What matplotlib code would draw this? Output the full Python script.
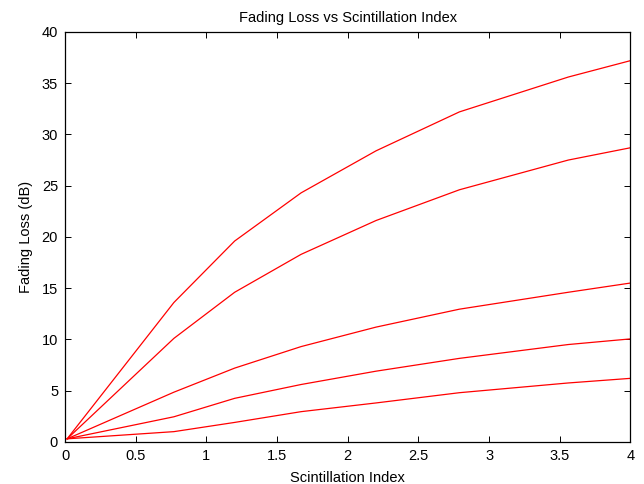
import matplotlib
matplotlib.use("Agg")
import matplotlib.pyplot as plt

plt.rcParams["font.family"] = ["Liberation Sans", "DejaVu Sans"]

# scintillation index breakpoints, shared by every curve
SI = [0.015, 0.77, 1.2, 1.67, 2.2, 2.79, 3.56, 4.0]

# fading loss (dB), one curve per outage probability (top to bottom)
LOSS_1 = [0.3, 13.6, 19.6, 24.3, 28.4, 32.2, 35.6, 37.2]
LOSS_2 = [0.3, 10.1, 14.6, 18.3, 21.6, 24.6, 27.5, 28.7]
LOSS_3 = [0.3, 4.85, 7.2, 9.3, 11.2, 12.95, 14.6, 15.5]
LOSS_4 = [0.3, 2.45, 4.25, 5.6, 6.9, 8.15, 9.5, 10.05]
LOSS_5 = [0.3, 1.0, 1.9, 2.95, 3.8, 4.8, 5.75, 6.2]

X_TICKS = [0, 0.5, 1, 1.5, 2, 2.5, 3, 3.5, 4]
Y_TICKS = [0, 5, 10, 15, 20, 25, 30, 35, 40]

fig = plt.figure(figsize=(6.44, 4.84), dpi=100)
ax = fig.add_axes([0.101, 0.087, 0.878, 0.847])

for loss in (LOSS_1, LOSS_2, LOSS_3, LOSS_4, LOSS_5):
    ax.plot(SI, loss, color="#ff0000", lw=0.9)

ax.set_xlim(0, 4)
ax.set_ylim(0, 40)
ax.set_xticks(X_TICKS)
ax.set_xticklabels(["0", "0.5", "1", "1.5", "2", "2.5", "3", "3.5", "4"])
ax.set_yticks(Y_TICKS)
ax.tick_params(direction="in", length=4, width=0.7, labelsize=10.5,
               top=True, right=True, pad=5)
for s in ax.spines.values():
    s.set_linewidth(0.9)

ax.set_title("Fading Loss vs Scintillation Index", fontsize=10.5, pad=7)
# the original export clips the bottom of the x label
ax.set_xlabel("Scintillation Index", fontsize=10.5, labelpad=6)
ax.set_ylabel("Fading Loss (dB)", fontsize=10.5, labelpad=6)

fig.savefig("out.png", dpi=100)
